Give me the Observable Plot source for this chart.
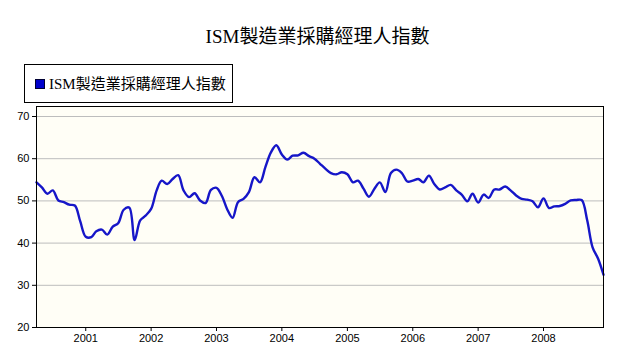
<!DOCTYPE html>
<html>
<head>
<meta charset="utf-8">
<script src="https://cdn.jsdelivr.net/npm/d3@7"></script>
<script src="https://cdn.jsdelivr.net/npm/@observablehq/plot@0.6"></script>
<style>
  html, body { margin: 0; padding: 0; background: #fff; }
  #wrap { position: relative; width: 629px; height: 357px; overflow: hidden; }
  #title { position: absolute; left: 0; top: 25px; width: 635px; text-align: center;
    font-family: "Liberation Serif", "Noto Sans CJK TC", serif; font-size: 19px; line-height: 24px; color: #000; }
  #legend { position: absolute; left: 24px; top: 64px; width: 207px; height: 37px; border: 1px solid #000; background: #fff; z-index: 2; }
  #legend .sw { position: absolute; left: 10px; top: 14px; width: 8px; height: 8px; background: #0000cc; border: 1px solid #000033; }
  #legend .tx { position: absolute; left: 24px; top: 9px; font-family: "Liberation Serif", "Noto Sans CJK TC", serif; font-size: 15px; line-height: 20px; white-space: nowrap; color: #000; }
  #chart { position: absolute; left: 0; top: 96px; z-index: 1; }
</style>
</head>
<body>
<div id="wrap">
  <div id="title"></div>
  <div id="legend"><div class="sw"></div><div class="tx"></div></div>
  <div id="chart"></div>
</div>
<script>
const chartTitle = "ISM製造業採購經理人指數";
const seriesName = "ISM製造業採購經理人指數";

// Monthly values, first series point is April 2000
const startYear = 2000, startMonth = 4;
const pmi2000 = [54.4, 53.2, 51.7, 52.5, 50.1, 49.7, 49.1, 48.9, 45.2];
const pmi2001 = [41.5, 41.4, 42.8, 43.2, 42.0, 43.9, 44.7, 47.9, 48.4, 40.7, 45.4, 46.5];
const pmi2002 = [48.1, 52.5, 54.8, 54.0, 55.2, 56.1, 52.5, 50.9, 51.8, 50.1, 49.5, 52.6];
const pmi2003 = [53.1, 51.1, 48.1, 46.0, 49.7, 50.5, 52.1, 55.6, 54.4, 58.0, 61.5, 63.2];
const pmi2004 = [61.0, 59.8, 60.7, 60.8, 61.4, 60.6, 60.0, 58.8, 57.6, 56.6, 56.3, 56.8];
const pmi2005 = [56.3, 54.4, 54.8, 52.9, 51.0, 52.9, 54.4, 52.1, 56.6, 57.4, 56.6, 54.6];
const pmi2006 = [54.8, 55.2, 54.4, 56.0, 54.0, 52.7, 53.2, 53.8, 52.5, 51.5, 49.9, 51.7];
const pmi2007 = [49.6, 51.5, 50.7, 52.7, 52.7, 53.4, 52.5, 51.3, 50.5, 50.3, 49.9, 48.5];
const pmi2008 = [50.6, 48.3, 48.7, 48.8, 49.3, 50.1, 50.2, 50.2, 45.4, 39.0, 36.3, 32.5];

const yearTickLabels = ["2001", "2002", "2003", "2004", "2005", "2006", "2007", "2008"];
const yTicks = [20, 30, 40, 50, 60, 70];
const gridTicks = [30, 40, 50, 60, 70];

const allValues = [].concat(pmi2000, pmi2001, pmi2002, pmi2003, pmi2004, pmi2005, pmi2006, pmi2007, pmi2008);
const data = allValues.map((v, i) => ({
  date: new Date(Date.UTC(startYear, startMonth - 1 + i, 1)),
  value: v
}));
const yearTicks = yearTickLabels.map(y => new Date(Date.UTC(+y, 0, 1)));

document.getElementById("title").textContent = chartTitle;
document.querySelector("#legend .tx").textContent = seriesName;

const chart = Plot.plot({
  width: 629,
  height: 261,
  marginTop: 10,
  marginBottom: 30,
  marginLeft: 36,
  marginRight: 26,
  style: { fontFamily: "'Liberation Sans', Arial, sans-serif", fontSize: "11px", background: "transparent", color: "#000" },
  x: { type: "utc", domain: [data[0].date, data[data.length - 1].date], label: null },
  y: { domain: [20, 72.37], label: null },
  marks: [
    Plot.frame({ fill: "#fffef6", stroke: null }),
    Plot.gridY(gridTicks, { stroke: "#bdbdbd", strokeOpacity: 1, strokeWidth: 1 }),
    Plot.lineY(data, { x: "date", y: "value", stroke: "#1616c8", strokeWidth: 2.4, curve: "catmull-rom" }),
    Plot.frame({ stroke: "#000", strokeWidth: 1 }),
    Plot.axisY(yTicks, { tickSize: 4, tickPadding: 3, label: null, stroke: "#000" }),
    Plot.axisX(yearTicks, { tickSize: 4, tickPadding: 3, tickFormat: d3.utcFormat("%Y"), label: null, stroke: "#000" })
  ]
});
document.getElementById("chart").appendChild(chart);
</script>
</body>
</html>
